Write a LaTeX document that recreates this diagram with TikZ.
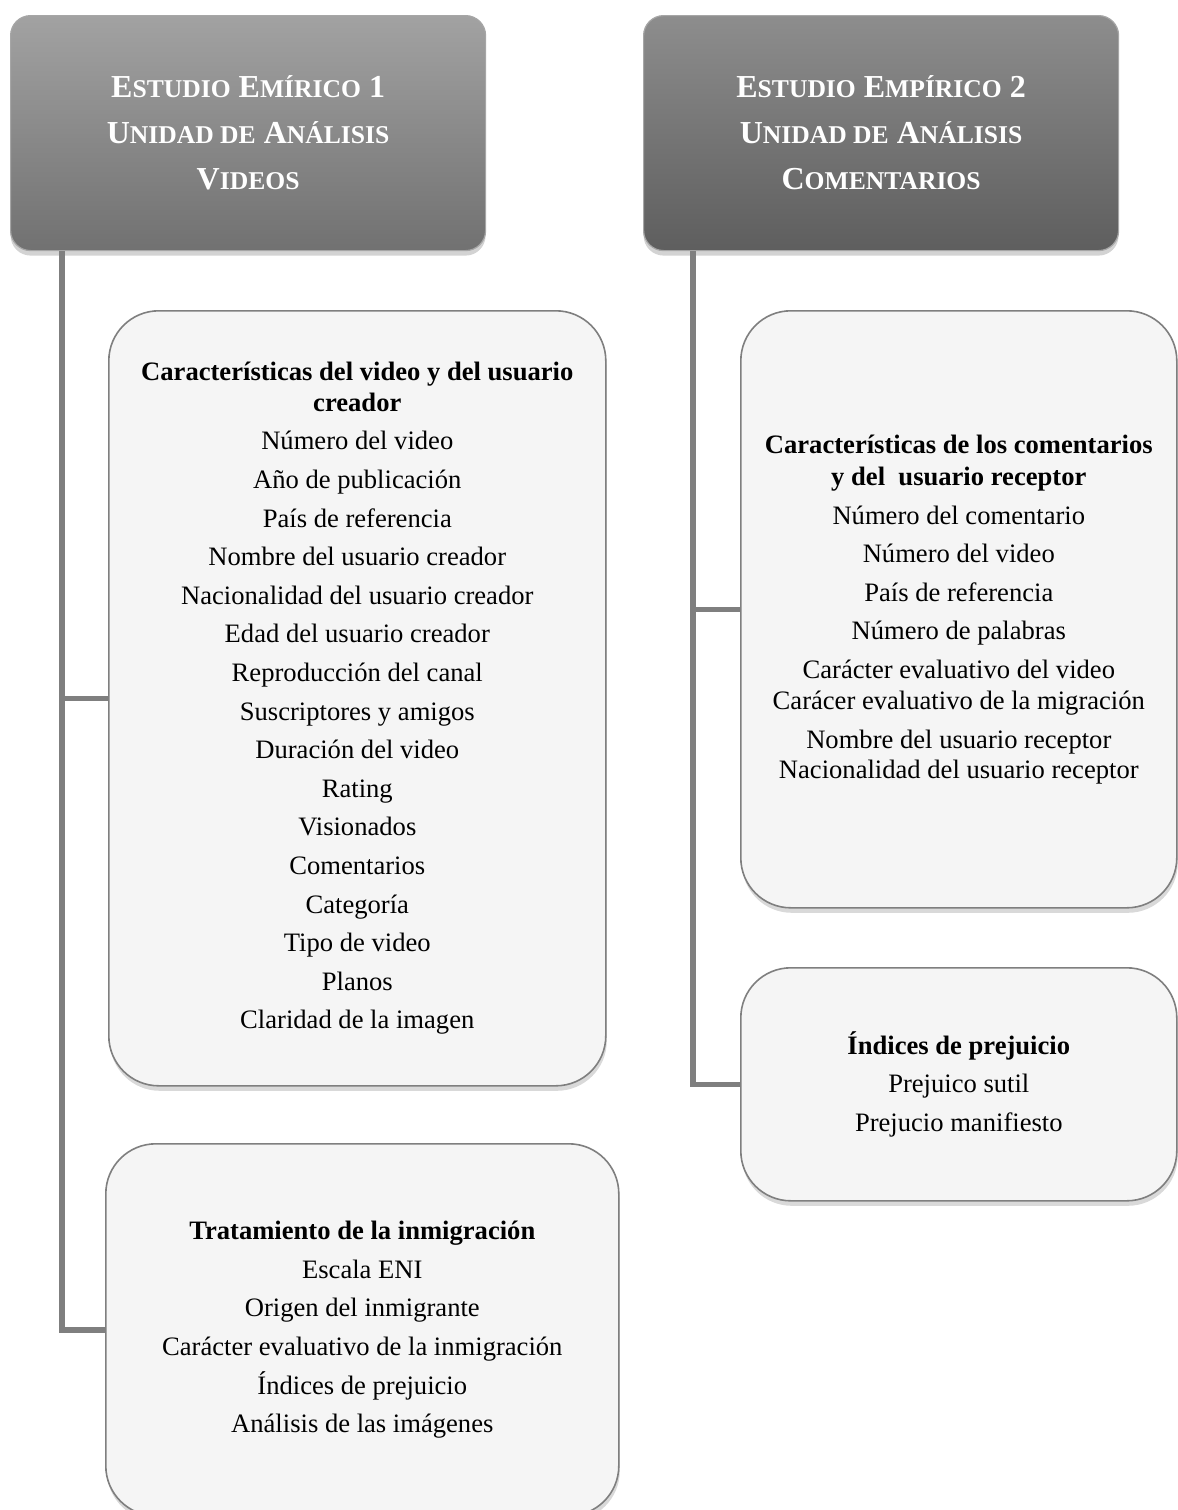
\documentclass[tikz,border=0pt]{standalone}
\usepackage{fontspec}
\setmainfont{Liberation Serif}
\usetikzlibrary{positioning,calc,shadows}
\definecolor{headAtop}{HTML}{A2A2A2}
\definecolor{headAbot}{HTML}{717171}
\definecolor{headBtop}{HTML}{8D8D8D}
\definecolor{headBbot}{HTML}{5E5E5E}
\definecolor{boxfill}{HTML}{F5F5F5}
\definecolor{linegray}{HTML}{7F7F7F}
\newcommand{\hsc}[2]{#1{\fontsize{12.8}{23}\selectfont #2}}

\begin{document}
\begin{tikzpicture}[
		x=0.5pt, y=-0.5pt,
		head/.style 2 args={draw=gray!70, line width=0.6pt, rounded corners=10pt,
			top color=#1, bottom color=#2, anchor=north west, inner sep=0pt,
			minimum width=237.5pt, minimum height=117.5pt, align=center, text=white,
			font=\bfseries\fontsize{16}{23}\selectfont,
			drop shadow={shadow xshift=0pt, shadow yshift=-2.5pt, opacity=0.35}},
		card/.style={draw=linegray, line width=0.8pt, rounded corners=25pt, fill=boxfill,
			anchor=north west, inner sep=0pt, align=center,
			font=\fontsize{13.3}{19.3}\selectfont,
			drop shadow={shadow xshift=0.5pt, shadow yshift=-2.5pt, opacity=0.3}},
		conn/.style={draw=linegray, line width=2.8pt}
		]
		\useasboundingbox (0,0) rectangle (1178,1510);
		
		\node[head={headAtop}{headAbot}] (est1) at (10,15)
			{\hsc{E}{STUDIO} \hsc{E}{MÍRICO} 1\\ \hsc{U}{NIDAD DE} \hsc{A}{NÁLISIS}\\ \hsc{V}{IDEOS}};
		\node[head={headBtop}{headBbot}] (est2) at (643,15)
			{\hsc{E}{STUDIO} \hsc{E}{MPÍRICO} 2\\ \hsc{U}{NIDAD DE} \hsc{A}{NÁLISIS}\\ \hsc{C}{OMENTARIOS}};
		
		\node[card, minimum width=248.5pt, minimum height=387.5pt] (carvid) at (108,310)
			{\textbf{Características del video y del usuario}\\[-3.8pt]
			\textbf{creador}\\
			Número del video\\ Año de publicación\\ País de referencia\\
			Nombre del usuario creador\\ Nacionalidad del usuario creador\\
			Edad del usuario creador\\ Reproducción del canal\\ Suscriptores y amigos\\
			Duración del video\\ Rating\\ Visionados\\ Comentarios\\ Categoría\\
			Tipo de video\\ Planos\\ Claridad de la imagen};
		\node[card, minimum width=256.5pt, minimum height=186pt] (tratinm) at (105,1143)
			{\textbf{Tratamiento de la inmigración}\\ Escala ENI\\ Origen del inmigrante\\
			Carácter evaluativo de la inmigración\\ Índices de prejuicio\\
			Análisis de las imágenes};
		\node[card, minimum width=218pt, minimum height=298.5pt] (carcom) at (740,310)
			{\textbf{Características de los comentarios}\\[-3.3pt]
			\textbf{y del~ usuario receptor}\\
			Número del comentario\\ Número del video\\ País de referencia\\
			Número de palabras\\ Carácter evaluativo del video\\[-3.8pt]
			Carácer evaluativo de la migración\\ Nombre del usuario receptor\\[-4.3pt]
			Nacionalidad del usuario receptor};
		\node[card, minimum width=218pt, minimum height=116.5pt] (indpre) at (740,967)
			{\textbf{Índices de prejuicio}\\ Prejuico sutil\\ Prejucio manifiesto};
		
		\coordinate (trunk1) at ($(est1.south west)+(52,0)$);
		\coordinate (trunk2) at ($(est2.south west)+(50,0)$);
		\draw[conn] (trunk1) |- (tratinm.west);
		\draw[conn] (trunk1 |- carvid.west) -- (carvid.west);
		\draw[conn] (trunk2) |- (indpre.west);
		\draw[conn] (trunk2 |- carcom.west) -- (carcom.west);
	\end{tikzpicture}
\end{document}
